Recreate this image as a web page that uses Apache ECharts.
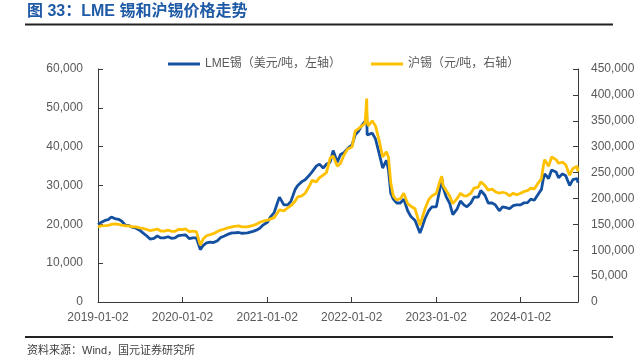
<!DOCTYPE html>
<html>
<head>
<meta charset="utf-8">
<script src="https://cdn.jsdelivr.net/npm/echarts@6/dist/echarts.min.js"></script>
<style>
html,body{margin:0;padding:0;background:#fff;}
#chart{width:638px;height:363px;}
</style>
</head>
<body>
<div id="chart"></div>
<script>
// ---- data ----
var dates = [
'2019-01-02','2019-01-15','2019-02-01','2019-02-15','2019-03-01','2019-03-15','2019-04-01','2019-04-15','2019-05-01','2019-05-15','2019-06-01','2019-06-15','2019-07-01','2019-07-15','2019-08-01','2019-08-15','2019-09-01','2019-09-15','2019-10-01','2019-10-15','2019-11-01','2019-11-15','2019-12-01','2019-12-15',
'2020-01-02','2020-01-15','2020-02-01','2020-02-15','2020-03-02','2020-03-10','2020-03-19','2020-04-01','2020-04-15','2020-05-01','2020-05-15','2020-06-01','2020-06-15','2020-07-01','2020-07-15','2020-08-03','2020-08-14','2020-09-01','2020-09-15','2020-10-09','2020-10-15','2020-11-02','2020-11-16','2020-12-01','2020-12-15',
'2021-01-04','2021-01-15','2021-02-01','2021-02-15','2021-02-24','2021-03-15','2021-04-01','2021-04-15','2021-05-03','2021-05-14','2021-06-01','2021-06-15','2021-07-01','2021-07-15','2021-08-02','2021-08-16','2021-09-01','2021-09-15','2021-10-01','2021-10-14','2021-11-01','2021-11-15','2021-12-01','2021-12-15',
'2022-01-04','2022-01-17','2022-02-01','2022-02-15','2022-03-01','2022-03-08','2022-03-10','2022-03-15','2022-04-01','2022-04-15','2022-05-02','2022-05-16','2022-06-01','2022-06-10','2022-06-20','2022-07-01','2022-07-15','2022-08-01','2022-08-15','2022-09-01','2022-09-15','2022-10-03','2022-10-24','2022-11-01','2022-11-15','2022-12-01','2022-12-15',
'2023-01-03','2023-01-16','2023-01-26','2023-02-01','2023-02-15','2023-03-01','2023-03-15','2023-04-03','2023-04-17','2023-05-02','2023-05-15','2023-06-01','2023-06-15','2023-07-03','2023-07-14','2023-08-01','2023-08-15','2023-09-01','2023-09-15','2023-10-02','2023-10-16','2023-11-01','2023-11-15','2023-12-01','2023-12-15',
'2024-01-02','2024-01-15','2024-02-01','2024-02-15','2024-03-01','2024-03-15','2024-04-01','2024-04-10','2024-04-15','2024-05-02','2024-05-15','2024-06-03','2024-06-14','2024-07-01','2024-07-15','2024-08-01','2024-08-15','2024-09-02','2024-09-06'
];
var lmeTin = [
20000,20500,21000,21200,21900,21500,21300,20800,19700,19700,19200,19000,18500,17800,17000,16200,16400,17000,16500,16500,16800,16400,16500,17100,
17200,17300,16300,16500,16500,16200,13500,14600,15200,15400,15300,15800,16600,17000,17400,17800,17800,17900,17700,17800,18000,18200,18500,19000,19800,
20600,21800,23000,25500,27000,25000,25000,26000,29000,30000,31000,31500,32500,33500,35000,35500,34500,35500,36000,39000,36000,38000,38500,39500,
40500,43000,44000,45500,46500,48500,43000,42500,43500,42000,38000,34500,36500,34000,28000,26500,25500,25500,26500,23500,22000,21000,17800,19000,21500,23500,24500,
24500,28500,32000,29500,27000,25500,22500,24000,26000,25000,24500,25500,27000,27000,28700,27500,25500,25500,25000,23500,24500,24300,24000,24800,25000,
25000,25500,25600,26500,26200,27500,29000,32000,33000,31800,34000,33500,32000,33000,32500,30000,31500,31800,30700
];
var shfeTin = [
145000,147000,147500,148000,150000,151000,150000,148500,147000,147000,145000,145000,143000,142000,140000,138000,139500,141000,137000,137000,139000,136500,136500,140000,
140000,141000,136000,137000,136000,134000,110000,122000,128000,130000,132000,136000,139000,141000,143000,145000,146000,147000,145000,145000,147000,148000,150000,154000,156000,
158000,160000,163000,172000,178000,176000,182000,186000,195000,203000,205000,210000,222000,235000,232000,240000,245000,250000,278000,282000,262000,268000,285000,295000,
300000,330000,335000,340000,345000,393000,350000,340000,350000,340000,310000,280000,290000,280000,230000,205000,197000,200000,210000,190000,185000,180000,148000,160000,180000,198000,205000,
210000,230000,243000,225000,215000,205000,190000,200000,210000,205000,205000,210000,220000,222000,232000,225000,216000,218000,213000,210000,212000,210000,205000,210000,207000,
210000,213000,215000,220000,218000,228000,238000,265000,275000,262000,280000,275000,268000,270000,265000,245000,258000,262000,252000
];
var xTickLabels = ['2019-01-02','2020-01-02','2021-01-02','2022-01-02','2023-01-02','2024-01-02'];
var xMin = '2019-01-02', xMax = '2024-09-06';
var seriesNames = ['LME锡（美元/吨，左轴）', '沪锡（元/吨，右轴）'];
var titleText = '图 33：LME 锡和沪锡价格走势';
var sourceText = '资料来源：Wind，国元证券研究所';

var DAY = 86400000;
function utc(s){ var p = s.split('-'); return Date.UTC(+p[0], +p[1]-1, +p[2]); }
var base = utc(xMin);
function dayIdx(s){ return Math.round((utc(s) - base) / DAY); }
function pad(n){ return n < 10 ? '0' + n : '' + n; }
function fmtDay(v){ var d = new Date(base + Math.round(v) * DAY); return d.getUTCFullYear() + '-' + pad(d.getUTCMonth()+1) + '-' + pad(d.getUTCDate()); }
function fmtNum(v){ return String(v).replace(/\B(?=(\d{3})+(?!\d))/g, ','); }

var lmeData = dates.map(function(d,i){ return [dayIdx(d), lmeTin[i]]; });
var shfeData = dates.map(function(d,i){ return [dayIdx(d), shfeTin[i]]; });
var tickVals = xTickLabels.map(dayIdx);

var axisColor = '#3a3a3a';
var textColor = '#595959';
var FONT = 'Liberation Sans, Arial, "Noto Sans CJK SC", sans-serif';

var chart = echarts.init(document.getElementById('chart'), null, {renderer:'canvas'});
chart.setOption({
  animation: false,
  backgroundColor: '#fff',
  textStyle: { fontFamily: FONT },
  grid: { left: 98, right: 60, top: 69, bottom: 61, containLabel: false },
  legend: {
    left: 163, top: 53,
    itemWidth: 32, itemHeight: 3, itemGap: 30,
    icon: 'rect',
    textStyle: { color: textColor, fontSize: 12, fontFamily: FONT },
    data: seriesNames
  },
  xAxis: {
    type: 'value',
    min: 0, max: dayIdx(xMax),
    splitLine: { show: false },
    axisLine: { show: true, lineStyle: { color: axisColor, width: 1 } },
    axisTick: { show: true, inside: true, length: 5, customValues: tickVals, lineStyle: { color: axisColor } },
    axisLabel: { customValues: tickVals, color: textColor, fontSize: 12, margin: 10, formatter: function(v){ return fmtDay(v); } }
  },
  yAxis: [
    {
      type: 'value', min: 0, max: 60000, interval: 10000, position: 'left',
      splitLine: { show: false },
      axisLine: { show: true, lineStyle: { color: axisColor } },
      axisTick: { show: true, inside: true, length: 5, lineStyle: { color: axisColor } },
      axisLabel: { color: textColor, fontSize: 12, margin: 15, formatter: fmtNum }
    },
    {
      type: 'value', min: 0, max: 450000, interval: 50000, position: 'right',
      splitLine: { show: false },
      axisLine: { show: true, lineStyle: { color: axisColor } },
      axisTick: { show: true, inside: true, length: 5, lineStyle: { color: axisColor } },
      axisLabel: { color: textColor, fontSize: 12, margin: 13, formatter: fmtNum }
    }
  ],
  series: [
    { name: seriesNames[0], type: 'line', yAxisIndex: 0, data: lmeData, showSymbol: false, symbol: 'none',
      lineStyle: { color: '#1450A0', width: 2.8 }, itemStyle: { color: '#1450A0' } },
    { name: seriesNames[1], type: 'line', yAxisIndex: 1, data: shfeData, showSymbol: false, symbol: 'none',
      lineStyle: { color: '#FFC000', width: 2.8 }, itemStyle: { color: '#FFC000' } }
  ],
  graphic: [
    { type: 'text', left: 27, top: 4, style: { text: titleText, fill: '#1F5AA6', font: 'bold 16px ' + FONT } },
    { type: 'rect', shape: { x: 25, y: 23.5, width: 588, height: 2 }, style: { fill: '#222' } },
    { type: 'rect', shape: { x: 25, y: 336, width: 588, height: 2 }, style: { fill: '#222' } },
    { type: 'text', left: 27, top: 345, style: { text: sourceText, fill: '#404040', font: '11px ' + FONT } }
  ]
});
</script>
</body>
</html>
